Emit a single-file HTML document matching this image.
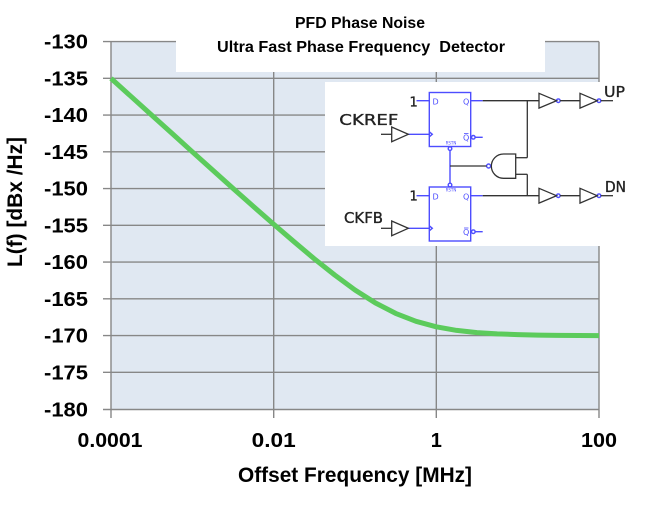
<!DOCTYPE html>
<html><head><meta charset="utf-8"><style>
html,body{margin:0;padding:0;background:#fff;}
svg{display:block;}
</style></head><body>
<svg width="646" height="508" viewBox="0 0 646 508" xmlns="http://www.w3.org/2000/svg">
<rect x="0" y="0" width="646" height="508" fill="#fff"/>
<!-- plot area -->
<rect x="111" y="41.6" width="488" height="367.9" fill="#e0e8f2"/>
<g stroke="#878787" stroke-width="1.4" fill="none">
  <line x1="103" y1="41.6" x2="599" y2="41.6"/>
  <line x1="103" y1="78.35" x2="599" y2="78.35"/>
  <line x1="103" y1="115.1" x2="599" y2="115.1"/>
  <line x1="103" y1="151.85" x2="599" y2="151.85"/>
  <line x1="103" y1="188.6" x2="599" y2="188.6"/>
  <line x1="103" y1="225.35" x2="599" y2="225.35"/>
  <line x1="103" y1="262.1" x2="599" y2="262.1"/>
  <line x1="103" y1="298.85" x2="599" y2="298.85"/>
  <line x1="103" y1="335.6" x2="599" y2="335.6"/>
  <line x1="103" y1="372.35" x2="599" y2="372.35"/>
  <line x1="103" y1="409.5" x2="599" y2="409.5"/>
  <line x1="111" y1="41.6" x2="111" y2="418"/>
  <line x1="273.7" y1="41.6" x2="273.7" y2="418"/>
  <line x1="436.3" y1="41.6" x2="436.3" y2="418"/>
  <line x1="599" y1="41.6" x2="599" y2="418"/>
</g>
<!-- curve -->
<polyline fill="none" stroke="#5ccb5c" stroke-width="5" stroke-linejoin="round" stroke-linecap="butt"
 points="111,78.35 131.3,96.7 151.7,115.1 172,133.4 192.3,151.8 212.7,170.1 233,188.4 253.3,206.4 273.7,224.2 294,241.7 314.3,258.8 334.7,275 355,290 375.3,302.9 395.7,313.4 416,321.3 436.3,326.8 456.7,330.4 477,332.6 497.3,333.9 517.7,334.6 538,335.1 558.3,335.4 578.7,335.5 599,335.6"/>
<!-- title box -->
<rect x="176" y="0" width="369" height="72" fill="#fff"/>
<g font-family="'Liberation Sans', Arial, sans-serif" font-weight="bold" fill="#000">
  <text x="360" y="28" font-size="16" text-anchor="middle" textLength="130" lengthAdjust="spacingAndGlyphs">PFD Phase Noise</text>
  <text x="361" y="52" font-size="16" text-anchor="middle" textLength="288" lengthAdjust="spacingAndGlyphs" xml:space="preserve">Ultra Fast Phase Frequency  Detector</text>
</g>
<!-- y tick labels -->
<g font-family="'Liberation Sans', Arial, sans-serif" font-weight="bold" font-size="20" fill="#000" text-anchor="end">
  <text x="88" y="48.6" textLength="44" lengthAdjust="spacingAndGlyphs">-130</text>
  <text x="88" y="85.35" textLength="44" lengthAdjust="spacingAndGlyphs">-135</text>
  <text x="88" y="122.1" textLength="44" lengthAdjust="spacingAndGlyphs">-140</text>
  <text x="88" y="158.85" textLength="44" lengthAdjust="spacingAndGlyphs">-145</text>
  <text x="88" y="195.6" textLength="44" lengthAdjust="spacingAndGlyphs">-150</text>
  <text x="88" y="232.35" textLength="44" lengthAdjust="spacingAndGlyphs">-155</text>
  <text x="88" y="269.1" textLength="44" lengthAdjust="spacingAndGlyphs">-160</text>
  <text x="88" y="305.85" textLength="44" lengthAdjust="spacingAndGlyphs">-165</text>
  <text x="88" y="342.6" textLength="44" lengthAdjust="spacingAndGlyphs">-170</text>
  <text x="88" y="379.35" textLength="44" lengthAdjust="spacingAndGlyphs">-175</text>
  <text x="88" y="416.5" textLength="44" lengthAdjust="spacingAndGlyphs">-180</text>
</g>
<!-- x tick labels -->
<g font-family="'Liberation Sans', Arial, sans-serif" font-weight="bold" font-size="20" fill="#000" text-anchor="middle">
  <text x="110" y="447" textLength="65" lengthAdjust="spacingAndGlyphs">0.0001</text>
  <text x="273.7" y="447" textLength="44" lengthAdjust="spacingAndGlyphs">0.01</text>
  <text x="436.3" y="447">1</text>
  <text x="599" y="447" textLength="36" lengthAdjust="spacingAndGlyphs">100</text>
</g>
<!-- axis titles -->
<g font-family="'Liberation Sans', Arial, sans-serif" font-weight="bold" font-size="21" fill="#000">
  <text x="355" y="482" text-anchor="middle" textLength="234" lengthAdjust="spacingAndGlyphs">Offset Frequency [MHz]</text>
  <text transform="translate(22,202) rotate(-90)" x="0" y="0" text-anchor="middle" textLength="130" lengthAdjust="spacingAndGlyphs">L(f) [dBx /Hz]</text>
</g>
<!-- schematic -->
<rect x="325" y="82" width="307" height="164" fill="#fff"/>
<g font-family="'DejaVu Sans', 'Liberation Sans', sans-serif" fill="#222" stroke="#222" stroke-width="0.35">
  <text x="339.3" y="125" font-size="15" textLength="59" lengthAdjust="spacingAndGlyphs">CKREF</text>
  <text x="344" y="223" font-size="15" textLength="39" lengthAdjust="spacingAndGlyphs">CKFB</text>
  <text x="604" y="96.8" font-size="15" textLength="21" lengthAdjust="spacingAndGlyphs">UP</text>
  <text x="605" y="191.8" font-size="15" textLength="21" lengthAdjust="spacingAndGlyphs">DN</text>
  <text x="409.5" y="106.5" font-size="13">1</text>
  <text x="409.5" y="200.5" font-size="13">1</text>
</g>
<g fill="#4d4dff" font-family="'DejaVu Sans', 'Liberation Sans', sans-serif">
  <text x="432.5" y="104.5" font-size="8">D</text>
  <text x="463" y="104.5" font-size="8">Q</text>
  <text x="463" y="140.5" font-size="8">Q</text>
  <text x="451" y="144.5" font-size="4" text-anchor="middle">RSTN</text>
  <text x="432.5" y="199.5" font-size="8">D</text>
  <text x="463" y="199.5" font-size="8">Q</text>
  <text x="463" y="235" font-size="8">Q</text>
  <text x="451" y="191.5" font-size="4" text-anchor="middle">RSTN</text>
</g>
<g stroke="#4d4dff" stroke-width="1.4" fill="none">
  <rect x="429.3" y="92.5" width="41.4" height="54"/>
  <rect x="429.3" y="187" width="41.4" height="54"/>
  <line x1="464" y1="133.5" x2="468.5" y2="133.5" stroke-width="0.8"/>
  <line x1="464" y1="228" x2="468.5" y2="228" stroke-width="0.8"/>
  <line x1="416.5" y1="100.7" x2="429.3" y2="100.7"/>
  <line x1="416.5" y1="195.7" x2="429.3" y2="195.7"/>
  <line x1="470.7" y1="100.7" x2="482.7" y2="100.7"/>
  <line x1="470.7" y1="195.7" x2="482.7" y2="195.7"/>
  <line x1="408.3" y1="134.3" x2="429.3" y2="134.3"/>
  <line x1="408.3" y1="228.3" x2="429.3" y2="228.3"/>
  <polyline points="429.3,131.8 432.3,134.3 429.3,136.8"/>
  <polyline points="429.3,225.8 432.3,228.3 429.3,230.8"/>
  <circle cx="473.3" cy="137.3" r="1.8"/>
  <circle cx="473.3" cy="231.7" r="1.8"/>
  <line x1="475.1" y1="137.3" x2="482.7" y2="137.3"/>
  <line x1="475.1" y1="231.7" x2="482.7" y2="231.7"/>
  <circle cx="450" cy="148.6" r="1.8"/>
  <circle cx="450" cy="185" r="1.8"/>
  <line x1="450" y1="150.4" x2="450" y2="183.2"/>
  <circle cx="488.6" cy="166" r="2"/>
  <circle cx="558.3" cy="100.7" r="1.8"/>
  <circle cx="599" cy="100.7" r="1.8"/>
  <circle cx="558.3" cy="195.7" r="1.8"/>
  <circle cx="599" cy="195.7" r="1.8"/>
</g>
<g stroke="#333" stroke-width="1.3" fill="#fff">
  <line x1="482.7" y1="100.7" x2="539" y2="100.7"/>
  <line x1="482.7" y1="195.7" x2="539" y2="195.7"/>
  <line x1="527.3" y1="100.7" x2="527.3" y2="157.7"/>
  <line x1="527.3" y1="174.3" x2="527.3" y2="195.7"/>
  <line x1="515.7" y1="157.7" x2="527.3" y2="157.7"/>
  <line x1="515.7" y1="174.3" x2="527.3" y2="174.3"/>
  <line x1="450" y1="166" x2="486.6" y2="166"/>
  <path d="M515.7,154 L503.5,154 A12.15,12.15 0 0 0 503.5,178.3 L515.7,178.3 Z"/>
  <line x1="381" y1="134.3" x2="391.7" y2="134.3"/>
  <line x1="381" y1="228.3" x2="391.7" y2="228.3"/>
  <polygon points="391.7,127 408.3,134.3 391.7,141.7"/>
  <polygon points="391.7,221 408.3,228.3 391.7,235.7"/>
  <polygon points="539,93.3 556.5,100.7 539,108.1"/>
  <polygon points="580,93.3 597.2,100.7 580,108.1"/>
  <polygon points="539,188.3 556.5,195.7 539,203.1"/>
  <polygon points="580,188.3 597.2,195.7 580,203.1"/>
  <line x1="560.1" y1="100.7" x2="580" y2="100.7"/>
  <line x1="560.1" y1="195.7" x2="580" y2="195.7"/>
  <line x1="600.8" y1="100.7" x2="613" y2="100.7"/>
  <line x1="600.8" y1="195.7" x2="613" y2="195.7"/>
</g>
</svg>
</body></html>
